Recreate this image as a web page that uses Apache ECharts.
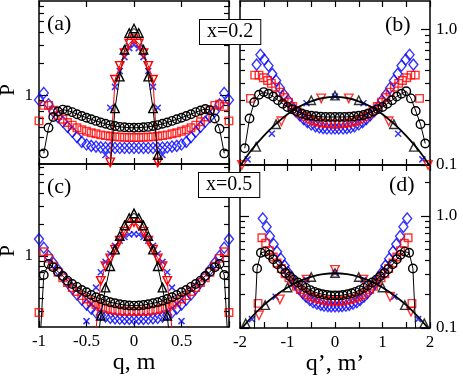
<!DOCTYPE html>
<html><head><meta charset="utf-8">
<script src="https://cdn.jsdelivr.net/npm/echarts@6/dist/echarts.min.js"></script>
<style>html,body{margin:0;padding:0;background:#fff}#c{width:463px;height:379px}</style>
</head><body><div id="c"></div>
<script>
// ---------- data ----------
const qGrid = [-1,-0.95,-0.9,-0.85,-0.8,-0.75,-0.7,-0.65,-0.6,-0.55,-0.5,-0.45,-0.4,-0.35,-0.3,-0.25,-0.2,-0.15,-0.1,-0.05,0,0.05,0.1,0.15,0.2,0.25,0.3,0.35,0.4,0.45,0.5,0.55,0.6,0.65,0.7,0.75,0.8,0.85,0.9,0.95,1];
const mGrid = [-0.5,-0.45,-0.4,-0.35,-0.3,-0.25,-0.2,-0.15,-0.1,-0.05,0,0.05,0.1,0.15,0.2,0.25,0.3,0.35,0.4,0.45,0.5];

// panel (a)  x=0.2
const aCircle  = [null,0.28,0.49,0.62,0.70,0.73,0.715,0.69,0.66,0.635,0.61,0.59,0.57,0.55,0.535,0.52,0.51,0.50,0.496,0.492,0.49,0.492,0.496,0.50,0.51,0.52,0.535,0.55,0.57,0.59,0.61,0.635,0.66,0.69,0.715,0.74,0.72,0.60,0.48,0.28,null];
const aSquare  = [0.57,0.80,0.80,0.72,0.64,0.59,0.55,0.52,0.49,0.47,0.455,0.44,0.43,0.42,0.413,0.407,0.403,0.40,0.398,0.397,0.397,0.397,0.398,0.40,0.403,0.407,0.413,0.42,0.43,0.44,0.455,0.47,0.49,0.52,0.56,0.62,0.72,0.80,0.82,0.78,0.57];
const aDiamond = [0.90,1.05,0.82,0.70,0.62,0.56,0.50,0.45,0.40,0.36,0.34,0.33,0.325,0.32,0.318,0.316,0.315,0.315,0.315,0.315,0.315,0.315,0.315,0.315,0.315,0.316,0.318,0.32,0.325,0.33,0.34,0.36,0.40,0.45,0.50,0.56,0.62,0.70,0.82,1.05,0.90];
const aTriUp   = [null,null,null,null,0.08,0.2,0.75,1.5,2.7,3.9,4.3,3.9,2.7,1.5,0.75,0.27,0.08,null,null,null,null];
const aTriDown = [null,null,null,null,0.1,0.23,1.4,1.9,2.5,3.1,3.4,3.1,2.5,1.9,1.4,0.23,0.1,null,null,null,null];
const aCross   = [null,null,null,null,0.27,0.76,1.2,1.7,2.3,2.8,3.0,2.8,2.3,1.7,1.2,0.76,0.27,null,null,null,null];

// panel (c)  x=0.5
const cCircle  = [0.1,0.66,0.84,0.78,0.71,0.646,0.583,0.542,0.508,0.475,0.452,0.426,0.405,0.39,0.376,0.363,0.355,0.347,0.342,0.338,0.337,0.338,0.342,0.347,0.355,0.363,0.376,0.39,0.405,0.426,0.452,0.475,0.508,0.542,0.583,0.646,0.71,0.78,0.84,0.66,0.1];
const cSquare  = [0.29,1.1,0.95,0.8,0.7,0.62,0.56,0.5,0.46,0.42,0.39,0.365,0.345,0.33,0.318,0.31,0.305,0.3,0.298,0.297,0.296,0.297,0.298,0.3,0.305,0.31,0.318,0.33,0.345,0.365,0.39,0.42,0.46,0.5,0.56,0.62,0.7,0.8,0.95,1.1,0.29];
const cDiamond = [1.45,1.2,1.0,0.86,0.74,0.64,0.56,0.49,0.43,0.385,0.345,0.315,0.29,0.275,0.265,0.258,0.255,0.253,0.252,0.252,0.252,0.252,0.252,0.253,0.255,0.258,0.265,0.275,0.29,0.315,0.345,0.385,0.43,0.49,0.56,0.64,0.74,0.86,1.0,1.2,1.45];
const cTriUp   = [null,null,0.1,0.27,0.5,0.8,1.15,1.55,1.95,2.3,2.55,2.3,1.95,1.55,1.15,0.8,0.5,0.27,0.1,null,null];
const cTriDown = [null,null,0.2,0.58,0.8,0.95,1.15,1.4,1.7,1.95,2.1,1.95,1.7,1.4,1.15,0.95,0.8,0.58,0.2,null,null];
const cCross   = [0.24,0.35,0.5,0.7,0.88,1.05,1.25,1.4,1.52,1.6,1.62,1.6,1.52,1.4,1.25,1.05,0.88,0.7,0.5,0.35,0.24];

// panel (b)  scaled, x=0.2
const bxBlack  = [-1.9,-1.8,-1.7,-1.6,-1.5,-1.4,-1.3,-1.2,-1.1,-1,-0.9,-0.8,-0.7,-0.6,-0.5,-0.4,-0.3,-0.2,-0.1,0,0.1,0.2,0.3,0.4,0.5,0.6,0.7,0.8,0.9,1,1.1,1.2,1.3,1.4,1.5,1.6,1.7,1.8,1.9];
const bCircle  = [0.133,0.22,0.29,0.33,0.345,0.335,0.32,0.30,0.283,0.268,0.258,0.248,0.24,0.234,0.231,0.229,0.227,0.226,0.226,0.226,0.226,0.226,0.227,0.229,0.231,0.234,0.24,0.248,0.258,0.268,0.283,0.30,0.32,0.335,0.35,0.31,0.25,0.2,0.144];
const bxRed    = [-1.78,-1.69,-1.6,-1.51,-1.42,-1.34,-1.25,-1.16,-1.07,-0.98,-0.89,-0.8,-0.71,-0.62,-0.53,-0.45,-0.36,-0.27,-0.18,-0.09,0,0.09,0.18,0.27,0.36,0.45,0.53,0.62,0.71,0.8,0.89,0.98,1.07,1.16,1.25,1.34,1.42,1.51,1.6,1.69,1.78];
const bSquare  = [0.31,0.46,0.46,0.44,0.42,0.40,0.375,0.345,0.315,0.29,0.27,0.252,0.238,0.228,0.218,0.211,0.207,0.204,0.202,0.201,0.2,0.201,0.202,0.204,0.207,0.211,0.218,0.228,0.238,0.252,0.27,0.29,0.315,0.345,0.375,0.40,0.42,0.44,0.46,0.46,0.31];
const bxBlue   = [-1.65,-1.57,-1.49,-1.4,-1.32,-1.24,-1.16,-1.07,-0.99,-0.91,-0.83,-0.74,-0.66,-0.58,-0.5,-0.41,-0.33,-0.25,-0.17,-0.08,0,0.08,0.17,0.25,0.33,0.41,0.5,0.58,0.66,0.74,0.83,0.91,0.99,1.07,1.16,1.24,1.32,1.4,1.49,1.57,1.65];
const bDiamond = [0.55,0.65,0.6,0.54,0.47,0.42,0.37,0.33,0.30,0.27,0.25,0.232,0.218,0.207,0.199,0.193,0.189,0.187,0.186,0.186,0.186,0.186,0.186,0.187,0.189,0.193,0.199,0.207,0.218,0.232,0.25,0.27,0.30,0.33,0.37,0.42,0.47,0.54,0.6,0.65,0.55];
const gaussX   = [-2,-1.75,-1.5,-1.25,-1,-0.75,-0.5,-0.25,0,0.25,0.5,0.75,1,1.25,1.5,1.75,2];
const bCurve   = [0.098,0.13,0.164,0.2,0.237,0.27,0.295,0.312,0.318,0.312,0.295,0.27,0.237,0.2,0.164,0.13,0.098];
const bxTriUp  = [-1.66,-1.24,-0.5,0,0.5,1.24,1.66];
const bTriUp   = [0.136,0.2,0.3,0.325,0.3,0.2,0.136];
const bxTriDn  = [-1.96,-1.13,-0.29,0.29,1.13,1.96];
const bTriDown = [0.1,0.21,0.31,0.31,0.21,0.1];
const bxCross  = [-1.84,-1.33,-0.6,0,0.6,1.33,1.84];
const bCross   = [0.11,0.17,0.285,0.32,0.285,0.17,0.11];

// panel (d)  scaled, x=0.5
const dxBlack  = [-1.73,-1.64,-1.56,-1.47,-1.38,-1.3,-1.21,-1.12,-1.04,-0.95,-0.87,-0.78,-0.69,-0.61,-0.52,-0.43,-0.35,-0.26,-0.17,-0.09,0,0.09,0.17,0.26,0.35,0.43,0.52,0.61,0.69,0.78,0.87,0.95,1.04,1.12,1.21,1.3,1.38,1.47,1.56,1.64,1.73];
const dCircle  = [0.05,0.34,0.47,0.48,0.45,0.41,0.37,0.335,0.31,0.29,0.27,0.255,0.24,0.228,0.218,0.21,0.204,0.2,0.197,0.195,0.195,0.195,0.197,0.2,0.204,0.21,0.218,0.228,0.24,0.255,0.27,0.29,0.31,0.335,0.37,0.41,0.45,0.48,0.47,0.34,0.05];
const dxRed    = [-1.62,-1.54,-1.46,-1.38,-1.3,-1.22,-1.13,-1.05,-0.97,-0.89,-0.81,-0.73,-0.65,-0.57,-0.49,-0.41,-0.32,-0.24,-0.16,-0.08,0,0.08,0.16,0.24,0.32,0.41,0.49,0.57,0.65,0.73,0.81,0.89,0.97,1.05,1.13,1.22,1.3,1.38,1.46,1.54,1.62];
const dSquare  = [0.166,0.64,0.57,0.49,0.43,0.38,0.34,0.305,0.28,0.255,0.236,0.22,0.208,0.198,0.19,0.184,0.18,0.177,0.175,0.174,0.174,0.174,0.175,0.177,0.18,0.184,0.19,0.198,0.208,0.22,0.236,0.255,0.28,0.305,0.34,0.38,0.43,0.49,0.57,0.64,0.166];
const dxBlue   = [-1.52,-1.44,-1.37,-1.29,-1.22,-1.14,-1.06,-0.99,-0.91,-0.84,-0.76,-0.68,-0.61,-0.53,-0.46,-0.38,-0.3,-0.23,-0.15,-0.08,0,0.08,0.15,0.23,0.3,0.38,0.46,0.53,0.61,0.68,0.76,0.84,0.91,0.99,1.06,1.14,1.22,1.29,1.37,1.44,1.52];
const dDiamond = [0.95,0.80,0.66,0.56,0.48,0.415,0.36,0.315,0.28,0.25,0.225,0.205,0.19,0.178,0.17,0.165,0.161,0.158,0.157,0.156,0.156,0.156,0.157,0.158,0.161,0.165,0.17,0.178,0.19,0.205,0.225,0.25,0.28,0.315,0.36,0.415,0.48,0.56,0.66,0.80,0.95];
const dCurve   = [0.095,0.126,0.16,0.195,0.23,0.262,0.286,0.302,0.308,0.302,0.286,0.262,0.23,0.195,0.16,0.126,0.095];
const dxTriUp  = [-1.88,-1.47,-1.0,-0.5,0,0.5,1.0,1.47,1.88];
const dTriUp   = [0.11,0.16,0.23,0.285,0.31,0.285,0.23,0.16,0.11];
const dxTriDn  = [-1.6,-1.16,-0.6,0,0.6,1.16,1.6];
const dTriDown = [0.13,0.18,0.27,0.33,0.27,0.19,0.14];
const dxCross  = [-1.75,-1.25,-0.6,0,0.6,1.25,1.75];
const dCross   = [0.12,0.19,0.27,0.31,0.27,0.19,0.12];

// tick values / labels
const xLabelsLeft  = [-1,-0.5,0,0.5];
const xLabelsRight = [-2,-1,0,1,2];
const yMajorLeft   = [1];
const yMajorLeftText = ['1'];
const yMinorLeft   = [0.3,0.4,0.5,0.6,0.7,0.8,0.9,2,3,4,5,6,7];
const yMajorRight  = [0.1,1];
const yMajorRightText = ['0.1','1.0'];
const yMinorRight  = [0.2,0.3,0.4,0.5,0.6,0.7,0.8,0.9,2];

// ---------- chart ----------
const FONT = 'Liberation Serif';
const BLUE = '#0000ff', RED = '#ff0000', BLACK = '#000000';
const panels = [
  {grid:{left:39, top:1,   width:190, height:163}, xmin:-1, xmax:1, ymin:0.222, ymax:7.85, xLabels:null, left:true,  pShift:15},
  {grid:{left:240, top:1,  width:190, height:164}, xmin:-2, xmax:2, ymin:0.1,   ymax:1.62, xLabels:null, left:false, pShift:12},
  {grid:{left:39, top:164, width:190, height:163}, xmin:-1, xmax:1, ymin:0.211, ymax:7.52, xLabels:xLabelsLeft, xName:'q, m', left:true, pShift:11},
  {grid:{left:240, top:165,width:190, height:163}, xmin:-2, xmax:2, ymin:0.1,   ymax:2.85, xLabels:xLabelsRight, xName:'q\u2019, m\u2019', left:false, pShift:7}
];

const grids = [], xAxes = [], yAxes = [];
panels.forEach((p, gi) => {
  grids.push(Object.assign({show:false, outerBoundsMode:'none', containLabel:false}, p.grid));
  const common = {gridIndex:gi, type:'value', min:p.xmin, max:p.xmax, interval:0.5, splitLine:{show:false},
    axisLine:{onZero:false, lineStyle:{color:BLACK, width:1.5}},
    axisTick:{inside:true, length:6, lineStyle:{color:BLACK, width:1.2}}};
  const bottom = Object.assign({}, common, {position:'bottom',
    axisLabel: p.xLabels ? {customValues:p.xLabels, fontFamily:FONT, fontSize:17, color:BLACK, margin:6, formatter:v=>String(v)} : {show:false}});
  if (p.xName) Object.assign(bottom, {name:p.xName, nameLocation:'middle', nameGap:18,
    nameTextStyle:{fontFamily:FONT, fontSize:24, color:BLACK}});
  xAxes.push(bottom, Object.assign({}, common, {position:'top', axisLabel:{show:false}}));

  const lmin = Math.log10(p.ymin), lmax = Math.log10(p.ymax);
  const main = {gridIndex:gi, type:'log', logBase:10, min:p.ymin, max:p.ymax, position:'left',
    axisLine:{show:true, onZero:false, lineStyle:{color:BLACK, width:1.5}}, axisTick:{show:false},
    axisLabel:{show:false}, splitLine:{show:false}, minorTick:{show:false}};
  const majVals = p.left ? yMajorLeft : yMajorRight;
  const majText = p.left ? yMajorLeftText : yMajorRightText;
  const minVals = p.left ? yMinorLeft : yMinorRight;
  const nameStyle = (shift) => ({name:'P', nameLocation:'middle', nameRotate:90,
    nameTextStyle:{fontFamily:FONT, fontSize:21, color:BLACK, padding:[0,shift,0,0]}});
  if (p.left) Object.assign(main, nameStyle(p.pShift), {nameGap:20});
  const deco = (pos, vals, len, withLabels, lineShow) => {
    const lv = vals.map(v => Math.log10(v));
    const ax = {gridIndex:gi, type:'value', min:lmin, max:lmax, position:pos, splitLine:{show:false},
      axisLine:{show:lineShow, onZero:false, lineStyle:{color:BLACK, width:1.5}},
      axisTick:{show:true, inside:true, length:len, customValues:lv, lineStyle:{color:BLACK, width:1.2}},
      axisLabel:{show:false}};
    if (withLabels) ax.axisLabel = {show:true, customValues:lv, fontFamily:FONT, fontSize:17, color:BLACK, margin:6,
      formatter: v => { const i = lv.findIndex(t => Math.abs(t - v) < 1e-6); return i >= 0 ? majText[i] : ''; }};
    return ax;
  };
  const rMaj = deco('right', majVals, 9, !p.left, true);
  if (!p.left) Object.assign(rMaj, nameStyle(p.pShift), {nameGap:11});
  yAxes.push(main, deco('left', majVals, 9, p.left, false), deco('left', minVals, 5, false, false),
             rMaj, deco('right', minVals, 5, false, false));
});

function pairs(xs, ys){ const o=[]; for(let i=0;i<xs.length;i++){ if(ys[i]!=null) o.push([xs[i], ys[i]]); } return o; }
const CROSS = 'path://M0,0L10,10M10,0L0,10';
const styles = {
  diamond:{type:'scatter', symbol:'diamond', symbolSize:[9,11], color:BLUE},
  cross:{type:'scatter', symbol:CROSS, symbolSize:6, color:BLUE, bw:1.5},
  square:{type:'scatter', symbol:'rect', symbolSize:7.5, color:RED},
  downL:{type:'line', symbol:'triangle', symbolRotate:180, symbolSize:8.5, color:RED, line:1},
  downS:{type:'scatter', symbol:'triangle', symbolRotate:180, symbolSize:8.5, color:RED},
  circle:{type:'line', symbol:'circle', symbolSize:8.5, color:BLACK, line:1},
  upL:{type:'line', symbol:'triangle', symbolSize:8.5, color:BLACK, line:1},
  upS:{type:'scatter', symbol:'triangle', symbolSize:8.5, color:BLACK}
};
function mk(gi, xs, ys, kind){
  const s = styles[kind];
  const o = {type:s.type, xAxisIndex:gi*2, yAxisIndex:gi*5, data:pairs(xs, ys), symbol:s.symbol, symbolSize:s.symbolSize,
    symbolRotate:s.symbolRotate || 0, clip:true, silent:true,
    itemStyle:{color:'rgba(255,255,255,0)', borderColor:s.color, borderWidth:s.bw || 1.4}};
  if (s.type === 'line') Object.assign(o, {showAllSymbol:true, lineStyle:{color:s.color, width:s.line}});
  return o;
}
function curve(gi, xs, ys){
  return {type:'line', xAxisIndex:gi*2, yAxisIndex:gi*5, data:pairs(xs, ys), showSymbol:false, symbol:'none',
    smooth:0.4, clip:true, silent:true, lineStyle:{color:BLACK, width:1.8}};
}

const series = [
  mk(0,qGrid,aDiamond,'diamond'), mk(0,mGrid,aCross,'cross'), mk(0,qGrid,aSquare,'square'), mk(0,mGrid,aTriDown,'downL'),
  mk(0,qGrid,aCircle,'circle'), mk(0,mGrid,aTriUp,'upL'),
  mk(1,bxBlue,bDiamond,'diamond'), mk(1,bxCross,bCross,'cross'), mk(1,bxRed,bSquare,'square'), mk(1,bxTriDn,bTriDown,'downS'),
  mk(1,bxBlack,bCircle,'circle'), mk(1,bxTriUp,bTriUp,'upS'), curve(1,gaussX,bCurve),
  mk(2,qGrid,cDiamond,'diamond'), mk(2,mGrid,cCross,'cross'), mk(2,qGrid,cSquare,'square'), mk(2,mGrid,cTriDown,'downL'),
  mk(2,qGrid,cCircle,'circle'), mk(2,mGrid,cTriUp,'upL'),
  mk(3,dxBlue,dDiamond,'diamond'), mk(3,dxCross,dCross,'cross'), mk(3,dxRed,dSquare,'square'), mk(3,dxTriDn,dTriDown,'downS'),
  mk(3,dxBlack,dCircle,'circle'), mk(3,dxTriUp,dTriUp,'upS'), curve(3,gaussX,dCurve)
];

const txt = (s, x, y, size) => ({type:'text', left:x, top:y, z:100, silent:true,
  style:{text:s, font:size + 'px "' + FONT + '"', fill:BLACK}});
const box = (s, x, y) => ({type:'text', left:x, top:y, z:100, silent:true,
  style:{text:s, font:'20px "' + FONT + '"', fill:BLACK, backgroundColor:'#fff', borderColor:BLACK, borderWidth:1, padding:[2,7,2,7]}});

const chart = echarts.init(document.getElementById('c'), null, {renderer:'canvas'});
chart.setOption({
  animation:false,
  backgroundColor:'#fff',
  grid:grids, xAxis:xAxes, yAxis:yAxes, series:series,
  graphic:[
    txt('(a)', 47, 13, 22), txt('(b)', 385, 14, 22), txt('(c)', 47, 176, 22), txt('(d)', 389, 174, 22),
    box('x=0.2', 199, 19), box('x=0.5', 198, 172)
  ]
});
</script></body></html>
